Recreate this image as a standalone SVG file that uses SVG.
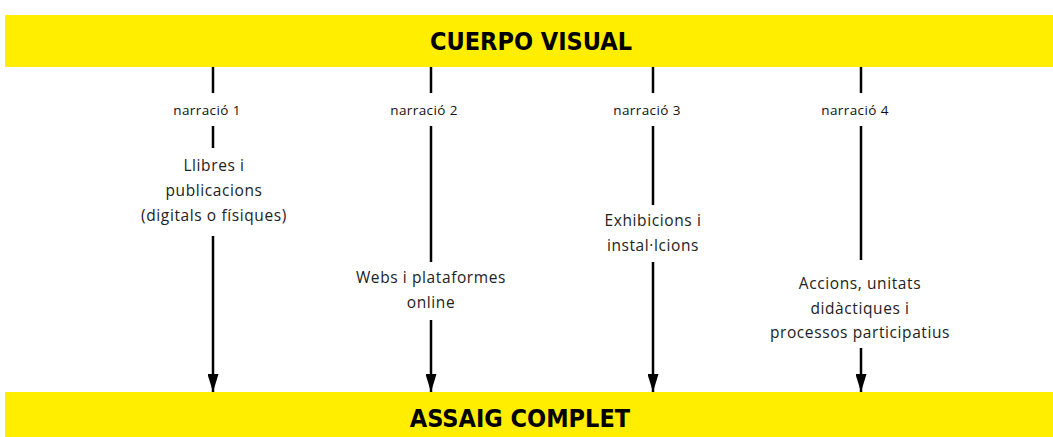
<svg xmlns="http://www.w3.org/2000/svg" width="1053" height="437" viewBox="0 0 1053 437">
<defs>
<style>
.bar{fill:#ffee00}
.title{font-family:"DejaVu Sans Condensed","DejaVu Sans",sans-serif;font-weight:bold;font-size:25px;fill:#000;text-anchor:middle}
.lbl{font-family:"Open Sans",sans-serif;font-size:13.5px;letter-spacing:0.4px;fill:#111;text-anchor:middle}
.txt{font-family:"Open Sans",sans-serif;font-size:15.5px;letter-spacing:0.6px;fill:#222;text-anchor:middle}
.ln{stroke:#000;stroke-width:2.5;fill:none}
</style>
<marker id="ah" viewBox="0 0 18 11" refX="18" refY="5.5" markerWidth="18" markerHeight="11" markerUnits="userSpaceOnUse" orient="auto">
<path d="M0,0 L18,5.5 L0,11 Z" fill="#000"/>
</marker>
</defs>
<rect width="1053" height="437" fill="#fff"/>
<g id="top">
<rect class="bar" x="5" y="15" width="1048" height="52"/>
<text class="title" x="531" y="50">CUERPO VISUAL</text>
</g>
<g id="bottom">
<rect class="bar" x="5" y="392" width="1048" height="45"/>
<text class="title" x="520" y="427">ASSAIG COMPLET</text>
</g>
<g id="connectors">
<line class="ln" x1="213" y1="67" x2="213" y2="93"/>
<line class="ln" x1="431" y1="67" x2="431" y2="93"/>
<line class="ln" x1="653" y1="67" x2="653" y2="93"/>
<line class="ln" x1="861" y1="67" x2="861" y2="93"/>
<line class="ln" x1="213" y1="126" x2="213" y2="148"/>
<line class="ln" x1="431" y1="126" x2="431" y2="262"/>
<line class="ln" x1="653" y1="126" x2="653" y2="205"/>
<line class="ln" x1="861" y1="126" x2="861" y2="260"/>
<path class="ln" d="M213,236 L213,392" marker-end="url(#ah)"/>
<path class="ln" d="M431,320 L431,392" marker-end="url(#ah)"/>
<path class="ln" d="M653,262 L653,392" marker-end="url(#ah)"/>
<path class="ln" d="M861,348 L861,392" marker-end="url(#ah)"/>
</g>
<g id="n1">
<text class="lbl" x="207" y="115">narració 1</text>
<text class="txt" x="214" y="171">Llibres i</text>
<text class="txt" x="214" y="196">publicacions</text>
<text class="txt" x="214" y="221">(digitals o físiques)</text>
</g>
<g id="n2">
<text class="lbl" x="424" y="115">narració 2</text>
<text class="txt" x="431" y="283">Webs i plataformes</text>
<text class="txt" x="431" y="308">online</text>
</g>
<g id="n3">
<text class="lbl" x="647" y="115">narració 3</text>
<text class="txt" x="653" y="226">Exhibicions i</text>
<text class="txt" x="653" y="251">instal·lcions</text>
</g>
<g id="n4">
<text class="lbl" x="855" y="115">narració 4</text>
<text class="txt" x="860" y="289">Accions, unitats</text>
<text class="txt" x="860" y="314">didàctiques i</text>
<text class="txt" x="860" y="338">processos participatius</text>
</g>
</svg>
